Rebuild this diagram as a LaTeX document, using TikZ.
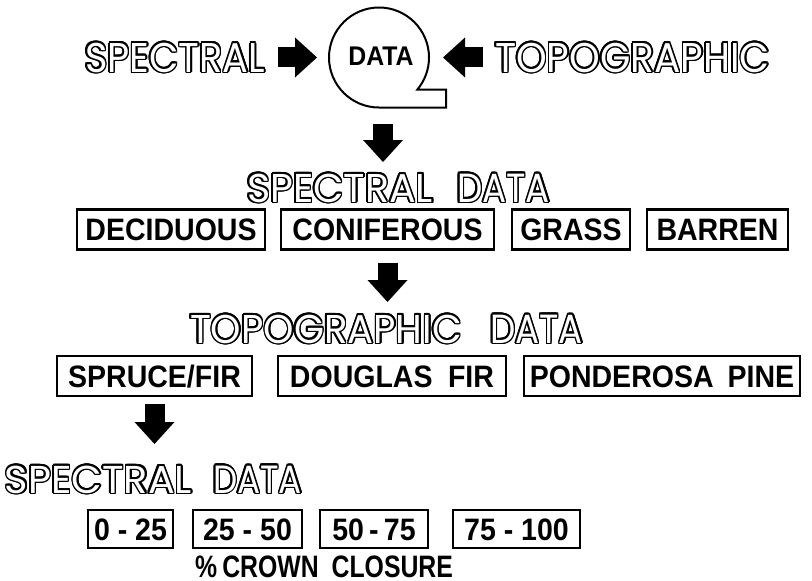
\documentclass[tikz,border=0pt]{standalone}
\usepackage{fontspec}
\setmainfont{Liberation Sans}
\newfontfamily\geo{Poppins}
\newfontfamily\condb[FakeStretch=0.92]{Liberation Sans}
\newfontfamily\condc[FakeStretch=0.80]{Liberation Sans}
\usepackage{graphicx}
\usetikzlibrary{arrows.meta}

\newcommand\outl[1]{%
  \leavevmode
  \foreach \oa in {0,22.5,...,337.5}{%
    \pgfmathsetlengthmacro\odx{1.6pt*cos(\oa)}%
    \pgfmathsetlengthmacro\ody{1.6pt*sin(\oa)}%
    \rlap{\hspace*{\odx}\raisebox{\ody}{\color{black}#1}}%
  }%
  {\color{white}#1}%
}
\newcommand\hd[3]{\resizebox{#1pt}{#2pt}{\outl{\geo\fontsize{40}{44}\selectfont #3}}}

\tikzset{
  lab/.style={draw, line width=2.1pt, inner sep=0pt, outer sep=0pt, minimum height=40pt,
    text height=22pt, text depth=0pt, font=\condb\fontsize{31}{33}\selectfont\bfseries},
  head/.style={inner sep=0pt, outer sep=0pt, anchor=base west},
  blk/.style={line width=20pt, -{Triangle[length=22pt,width=40pt,line width=0pt]}},
}

\begin{document}
\begin{tikzpicture}[x=1pt,y=1pt]
\useasboundingbox (0,0) rectangle (812,-581);
\fill[white] (0,0) rectangle (812,-581);

% top row
\node[head] (spectop) at (85,-72) {\hd{180}{31}{SPECTRAL}};
\node[head] (topotop) at (495,-72) {\hd{275}{31}{TOPOGRAPHIC}};
\node[circle, minimum size=100pt, inner sep=0pt, outer sep=0pt] (bubble) at (379,-57.5) {};
\coordinate (tailend) at (446,-107.5);
\draw[line width=2pt, line join=miter] (bubble.south) arc[start angle=-90, end angle=-400, radius=50pt]
  -- (tailend |- bubble.-40) -- (tailend) -- cycle;
\node[inner sep=0pt, text height=19pt, text depth=0pt, font=\condb\fontsize{27}{29}\selectfont\bfseries] (data) at (381,-56) {DATA};

\draw[blk, shorten <=13pt, shorten >=12pt] (spectop.east) -- (spectop.east -| bubble.west);
\draw[blk, shorten <=12pt, shorten >=14pt] (topotop.west) -- (topotop.west -| bubble.east);

% spectral data row
\node[head] (h2) at (247,-202) {\hd{186}{30}{SPECTRAL}\hspace{24pt}\hd{93}{30}{DATA}};
\draw[blk, shorten <=16.5pt, shorten >=10pt] ([xshift=4pt]bubble.south) -- ([xshift=4pt]bubble.south |- h2.north);

\node[lab, minimum width=188pt] (decid) at (171,-229.5) {DECIDUOUS};
\node[lab, minimum width=213pt] (conif) at (387.5,-229.5) {CONIFEROUS};
\node[lab, minimum width=118pt] (grass) at (571,-229.5) {GRASS};
\node[lab, minimum width=141pt] (barren) at (717.5,-229.5) {BARREN};

% topographic data row
\node[head] (h3) at (190,-343) {\hd{272}{30}{TOPOGRAPHIC}\hspace{28pt}\hd{93}{30}{DATA}};
\draw[blk, shorten <=13pt, shorten >=11pt] (conif.south) -- (conif.south |- h3.north);

\node[lab, minimum width=195pt] (spruce) at (154.5,-376) {SPRUCE/FIR};
\node[lab, minimum width=228pt] (douglas) at (392,-376) {DOUGLAS\hspace{0.5em}FIR};
\node[lab, minimum width=276pt] (pond) at (662,-376) {PONDEROSA\hspace{0.45em}PINE};

% bottom spectral data
\node[head] (h4) at (5,-493) {\hd{187}{29}{SPECTRAL}\hspace{21pt}\hd{89}{29}{DATA}};
\draw[blk, shorten <=8pt, shorten >=20pt] (spruce.south) -- (spruce.south |- h4.north);

\node[lab, minimum width=85pt, minimum height=38pt] (c1) at (130.5,-529) {0 - 25};
\node[lab, minimum width=109pt, minimum height=38pt] (c2) at (247.5,-529) {25 - 50};
\node[lab, minimum width=108pt, minimum height=38pt] (c3) at (374,-529) {50\,-\,75};
\node[lab, minimum width=127pt, minimum height=38pt] (c4) at (516.5,-529) {75 - 100};

\node[inner sep=0pt, text height=22pt, text depth=0pt, font=\condc\fontsize{31}{33}\selectfont\bfseries] (crown) at (324,-566.5) {\%\,CROWN\hspace{13pt}CLOSURE};
\end{tikzpicture}
\end{document}
